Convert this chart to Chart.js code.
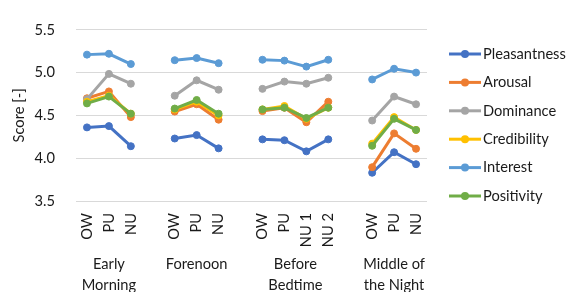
<!DOCTYPE html>
<html><head><meta charset="utf-8">
<script src="https://cdn.jsdelivr.net/npm/chart.js@4.4.1/dist/chart.umd.min.js"></script>
<style>html,body{margin:0;padding:0;background:#fff;}</style>
</head><body>
<canvas id="c" width="569" height="292"></canvas>
<script>
const groupLabels = [["Early","Morning"],["Forenoon"],["Before","Bedtime"],["Middle of","the Night"]];
const groupTicks = [["OW","PU","NU"],["OW","PU","NU"],["OW","PU","NU 1","NU 2"],["OW","PU","NU"]];
const seriesNames = ["Pleasantness","Arousal","Dominance","Credibility","Interest","Positivity"];
const seriesColors = ["#4472C4","#ED7D31","#A5A5A5","#FFC000","#5B9BD5","#70AD47"];
const pleasantness = [4.36,4.375,4.14, 4.23,4.27,4.115, 4.22,4.21,4.08,4.22, 3.83,4.07,3.93];
const arousal      = [4.70,4.78,4.48, 4.545,4.63,4.45, 4.55,4.59,4.42,4.66, 3.895,4.29,4.11];
const dominance    = [4.69,4.985,4.87, 4.73,4.91,4.80, 4.81,4.895,4.87,4.94, 4.44,4.72,4.63];
const credibility  = [4.66,4.73,4.52, 4.57,4.66,4.50, 4.57,4.61,4.46,4.59, 4.17,4.48,4.33];
const interest     = [5.21,5.22,5.10, 5.145,5.17,5.11, 5.15,5.14,5.07,5.15, 4.92,5.045,5.00];
const positivity   = [4.64,4.72,4.52, 4.58,4.68,4.52, 4.57,4.59,4.47,4.59, 4.145,4.46,4.33];
const seriesValues = [pleasantness,arousal,dominance,credibility,interest,positivity];

const FONT = 'Lato, "Open Sans", sans-serif';
const FS = 14.67;
const TXT = '#1a1a1a';

// build category slots with gaps between groups
const labels = [];
const groupSlots = [];
groupTicks.forEach((g, gi) => {
  const slots = [];
  g.forEach(t => { slots.push(labels.length); labels.push(t); });
  groupSlots.push(slots);
  if (gi < groupTicks.length - 1) labels.push('');
});
function expand(vals) {
  const out = new Array(labels.length).fill(null);
  let k = 0;
  groupSlots.forEach(slots => slots.forEach(s => { out[s] = vals[k++]; }));
  return out;
}
const datasets = seriesNames.map((n, i) => ({
  label: n,
  data: expand(seriesValues[i]),
  borderColor: seriesColors[i],
  backgroundColor: seriesColors[i],
  borderWidth: 3,
  pointRadius: 3.5,
  pointBorderWidth: 1,
  pointBackgroundColor: seriesColors[i],
  pointBorderColor: seriesColors[i],
  spanGaps: false,
  tension: 0,
  order: seriesNames.length - i
}));

const groupPlugin = {
  id: 'groups',
  afterDraw(chart) {
    const ctx = chart.ctx, x = chart.scales.x;
    ctx.save();
    ctx.font = FS + 'px ' + FONT;
    ctx.fillStyle = TXT;
    ctx.textAlign = 'center';
    ctx.textBaseline = 'middle';
    groupSlots.forEach((slots, gi) => {
      const cx = (x.getPixelForValue(slots[0]) + x.getPixelForValue(slots[slots.length - 1])) / 2;
      groupLabels[gi].forEach((line, li) => ctx.fillText(line, cx, 264 + li * 21));
    });
    ctx.restore();
  }
};
const legendPlugin = {
  id: 'legendBox',
  afterDraw(chart) {
    const ctx = chart.ctx;
    ctx.save();
    ctx.font = FS + 'px ' + FONT;
    ctx.textBaseline = 'middle';
    ctx.textAlign = 'left';
    seriesNames.forEach((n, i) => {
      const y = 54 + i * 28.4;
      ctx.strokeStyle = seriesColors[i];
      ctx.lineWidth = 3;
      ctx.beginPath(); ctx.moveTo(449, y); ctx.lineTo(481, y); ctx.stroke();
      ctx.fillStyle = seriesColors[i];
      ctx.beginPath(); ctx.arc(465, y, 4, 0, Math.PI * 2); ctx.fill();
      ctx.fillStyle = TXT;
      ctx.fillText(n, 483, y);
    });
    ctx.restore();
  }
};

new Chart(document.getElementById('c'), {
  type: 'line',
  data: { labels, datasets },
  options: {
    responsive: false,
    animation: false,
    devicePixelRatio: 1,
    layout: { padding: { left: 0, top: 14, right: 142, bottom: 0 } },
    plugins: { legend: { display: false }, tooltip: { enabled: false } },
    scales: {
      x: {
        type: 'category', offset: true,
        grid: { display: false, drawTicks: false },
        border: { display: false },
        ticks: { autoSkip: false, maxRotation: 90, minRotation: 90, padding: 12,
                 font: { family: FONT, size: FS }, color: TXT },
        afterFit(s) { s.height = 91; }
      },
      y: {
        min: 3.5, max: 5.5,
        ticks: { stepSize: 0.5, callback: v => v.toFixed(1), padding: 21,
                 font: { family: FONT, size: FS }, color: TXT },
        grid: { color: '#D9D9D9', lineWidth: 1, drawTicks: false },
        border: { display: false },
        title: { display: true, text: 'Score [-]', font: { family: FONT, size: FS }, color: TXT, padding: { top: 10, bottom: 0 } },
        afterFit(s) { s.width = 76; }
      }
    }
  },
  plugins: [groupPlugin, legendPlugin]
});
</script>
</body></html>
